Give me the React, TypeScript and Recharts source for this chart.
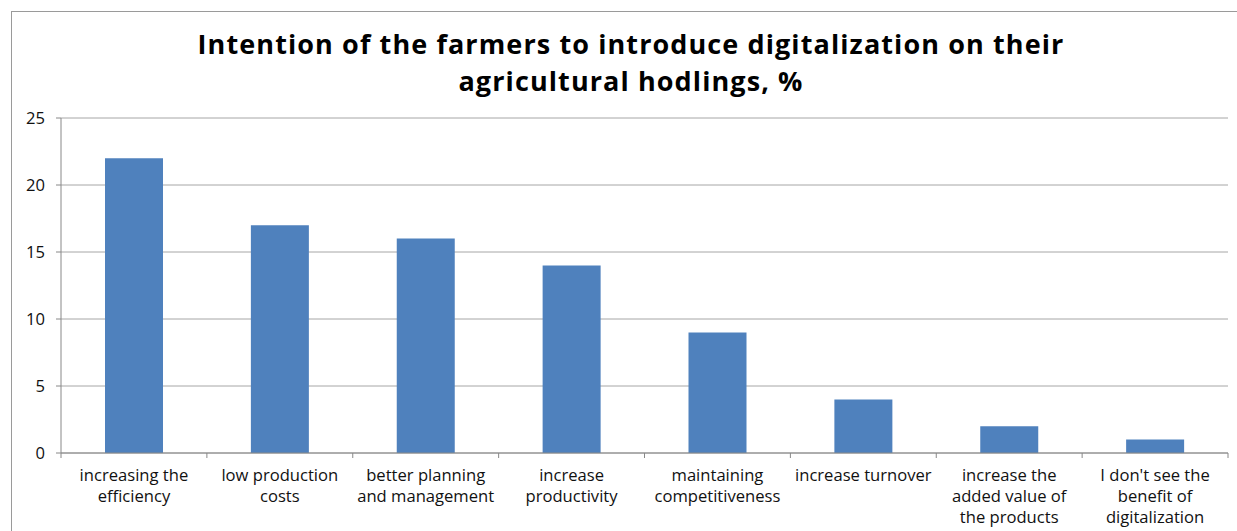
import React from 'react';
import { BarChart, Bar, XAxis, YAxis, CartesianGrid } from 'recharts';

const categories = [
  'increasing the\nefficiency',
  'low production\ncosts',
  'better planning\nand management',
  'increase\nproductivity',
  'maintaining\ncompetitiveness',
  'increase turnover',
  'increase the\nadded value of\nthe products',
  "I don't see the\nbenefit of\ndigitalization",
];
const values = [22, 17, 16, 14, 9, 4, 2, 1];
const yTicks = [0, 5, 10, 15, 20, 25];
const titleLines = [
  'Intention of the farmers to introduce digitalization on their',
  'agricultural hodlings, %',
];

const data = categories.map((c, i) => ({ name: c, value: values[i] }));

const FONT = '"Open Sans", sans-serif';
const AXIS = '#888888';

const XTick = (props: any) => {
  const { x, y, payload, index, width, visibleTicksCount } = props;
  const n = visibleTicksCount || categories.length;
  const half = width / n / 2;
  const lines = String(payload.value).split('\n');
  return (
    <g>
      <line x1={x - half} x2={x - half} y1={y} y2={y + 5} stroke={AXIS} strokeWidth={1} />
      {index === n - 1 && (
        <line x1={x + half} x2={x + half} y1={y} y2={y + 5} stroke={AXIS} strokeWidth={1} />
      )}
      <text x={x} y={y} textAnchor="middle" fontFamily={FONT} fontSize={16.6} fill="#111">
        {lines.map((l, i) => (
          <tspan key={i} x={x} dy={i === 0 ? 28 : 21}>
            {l}
          </tspan>
        ))}
      </text>
    </g>
  );
};

export default function App() {
  return (
    <div
      style={{
        position: 'absolute',
        left: 0,
        top: 0,
        width: 1237,
        height: 531,
        background: '#fff',
        overflow: 'hidden',
      }}
    >
      <div
        style={{
          position: 'absolute',
          left: 11,
          top: 11,
          width: 1300,
          height: 600,
          border: '1px solid #9a9a9a',
          boxSizing: 'border-box',
        }}
      />
      {titleLines.map((t, i) => (
        <div
          key={i}
          style={{
            position: 'absolute',
            left: 0,
            top: 28 + i * 37,
            width: 1262,
            textAlign: 'center',
            fontFamily: FONT,
            fontWeight: 700,
            fontSize: 27,
            letterSpacing: '1.1px',
            lineHeight: '31px',
            height: 31,
            color: '#000',
            whiteSpace: 'nowrap',
          }}
        >
          {t}
        </div>
      ))}
      <div style={{ position: 'absolute', left: 0, top: 0 }}>
        <BarChart
          width={1237}
          height={531}
          data={data}
          margin={{ top: 118, right: 9, bottom: 0, left: 0 }}
          barCategoryGap={0}
        >
          <CartesianGrid vertical={false} stroke="#a6a6a6" strokeWidth={1} />
          <XAxis
            dataKey="name"
            interval={0}
            height={78}
            axisLine={{ stroke: AXIS }}
            tickLine={false}
            tickSize={0}
            tickMargin={0}
            tick={<XTick />}
          />
          <YAxis
            width={61}
            domain={[0, 25]}
            ticks={yTicks}
            interval={0}
            axisLine={{ stroke: AXIS }}
            tickLine={{ stroke: AXIS }}
            tickSize={5}
            tickMargin={11}
            tick={{ fontFamily: FONT, fontSize: 16.6, fill: '#111' }}
          />
          <Bar dataKey="value" fill="#4F81BD" barSize={58} isAnimationActive={false} />
        </BarChart>
      </div>
    </div>
  );
}
